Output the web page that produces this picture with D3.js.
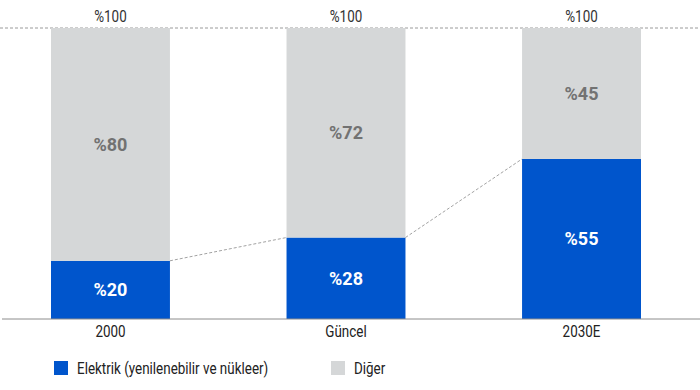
<!DOCTYPE html>
<html>
<head>
<meta charset="utf-8">
<script src="https://cdn.jsdelivr.net/npm/d3@7"></script>
<style>
  body { margin: 0; background: #fff; }
  svg text { font-family: Roboto, "Noto Sans", sans-serif; }
</style>
</head>
<body>
<div id="chart"></div>
<script>
const categories = ['2000', 'Güncel', '2030E'];
const elektrik = [20, 28, 55];
const diger = [80, 72, 45];
const seriesNames = ['Elektrik (yenilenebilir ve nükleer)', 'Diğer'];
const totalLabel = '%100';

const width = 700;
const height = 390;
const blue = '#0055cc';
const grey = '#d5d7d8';
const narrow = 0.84; // condensed look

const svg = d3.select('#chart')
  .append('svg')
    .attr('width', width)
    .attr('height', height);

const x = d3.scaleBand()
  .domain(categories)
  .range([51, 641])
  .paddingInner(0.495)
  .paddingOuter(0);

const y = d3.scaleLinear()
  .domain([0, 100])
  .range([319, 28]);

const rows = categories.map((c, i) => ({ cat: c, elektrik: elektrik[i], diger: diger[i] }));
const stack = d3.stack().keys(['elektrik', 'diger'])(rows);

function condText(sel, tx, ty) {
  return sel.attr('transform', `translate(${tx},${ty}) scale(${narrow},1)`);
}

// top 100% line
svg.append('line')
  .attr('x1', 0).attr('x2', width)
  .attr('y1', y(100)).attr('y2', y(100))
  .attr('stroke', '#9a9a9a')
  .attr('stroke-width', 1)
  .attr('stroke-dasharray', '3,2');

// bars
svg.append('g')
  .selectAll('g')
  .data(stack)
  .enter()
  .append('g')
    .attr('fill', (d, i) => i === 0 ? blue : grey)
  .selectAll('rect')
  .data(d => d)
  .enter()
  .append('rect')
    .attr('x', d => x(d.data.cat))
    .attr('y', d => y(d[1]))
    .attr('width', x.bandwidth())
    .attr('height', d => y(d[0]) - y(d[1]));

// connectors between blue tops
const links = d3.pairs(categories.map((c, i) => ({ cat: c, v: elektrik[i] })));
svg.append('g')
  .selectAll('line')
  .data(links)
  .enter()
  .append('line')
    .attr('x1', d => x(d[0].cat) + x.bandwidth())
    .attr('y1', d => y(d[0].v))
    .attr('x2', d => x(d[1].cat))
    .attr('y2', d => y(d[1].v))
    .attr('stroke', '#8a8a8a')
    .attr('stroke-width', 0.8)
    .attr('stroke-dasharray', '3,2');

// baseline
svg.append('line')
  .attr('x1', 2).attr('x2', width)
  .attr('y1', y(0)).attr('y2', y(0))
  .attr('stroke', '#8c8c8c')
  .attr('stroke-width', 1);

// value labels
const lbl = svg.append('g')
  .attr('text-anchor', 'middle')
  .attr('font-weight', 700)
  .attr('font-size', 18);

categories.forEach((c, i) => {
  const cx = x(c) + x.bandwidth() / 2;
  lbl.append('text')
    .attr('x', cx)
    .attr('y', y(elektrik[i] / 2))
    .attr('dy', '0.36em')
    .attr('fill', '#fff')
    .text('%' + elektrik[i]);
  lbl.append('text')
    .attr('x', cx)
    .attr('y', y(elektrik[i] + diger[i] / 2))
    .attr('dy', '0.36em')
    .attr('fill', '#727272')
    .text('%' + diger[i]);
});

// total labels and category labels
categories.forEach(c => {
  const cx = x(c) + x.bandwidth() / 2;
  svg.append('text')
    .call(condText, cx, 16)
    .attr('text-anchor', 'middle')
    .attr('dy', '0.36em')
    .attr('font-size', 16)
    .attr('fill', '#333')
    .text(totalLabel);
  svg.append('text')
    .call(condText, cx, 331)
    .attr('text-anchor', 'middle')
    .attr('dy', '0.36em')
    .attr('font-size', 16)
    .attr('fill', '#222')
    .text(c);
});

// legend
const legendX = [54, 331];
const legend = svg.append('g');
seriesNames.forEach((name, i) => {
  const g = legend.append('g');
  g.append('rect')
    .attr('x', legendX[i])
    .attr('y', 361)
    .attr('width', 14)
    .attr('height', 14)
    .attr('fill', i === 0 ? blue : grey);
  g.append('text')
    .call(condText, legendX[i] + 23, 368)
    .attr('dy', '0.36em')
    .attr('font-size', 16)
    .attr('fill', '#222')
    .text(name);
});
</script>
</body>
</html>
